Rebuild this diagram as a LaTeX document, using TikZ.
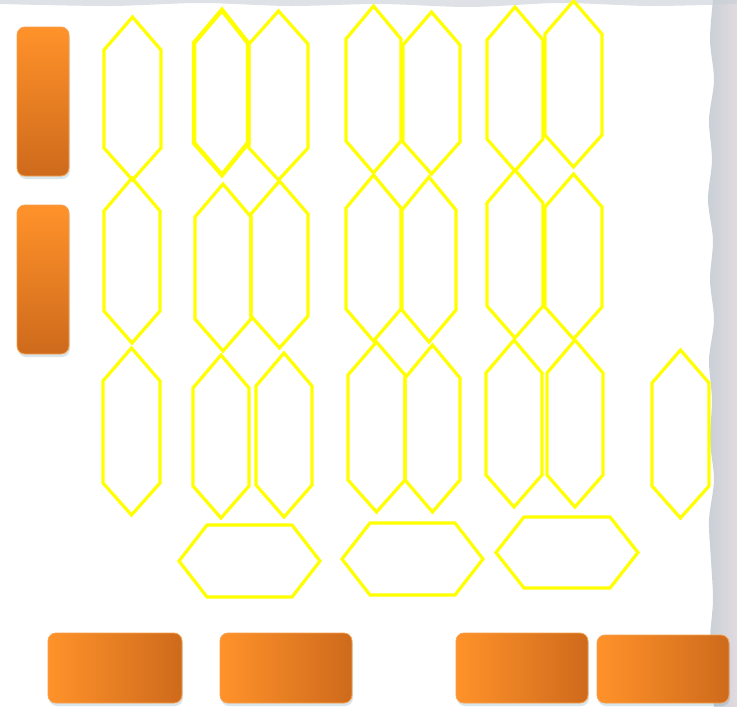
\documentclass[tikz,border=0pt]{standalone}
\usetikzlibrary{shadows}
\definecolor{hexyellow}{RGB}{255,255,0}
\definecolor{orangelight}{RGB}{255,146,42}
\definecolor{orangedark}{RGB}{206,106,28}
\definecolor{orangerim}{RGB}{245,160,80}
\definecolor{edgegray}{RGB}{200,208,214}
\definecolor{edgepink}{RGB}{226,218,224}
\tikzset{
  hexline/.style={draw=hexyellow, line width=3.2pt, line join=miter},
  orangebox/.style={rounded corners=8pt, draw=orangerim, line width=.8pt,
    drop shadow={shadow xshift=1pt, shadow yshift=-3pt, opacity=.2,
      fill=black!40!cyan}},
  orangev/.style={orangebox, top color=orangelight, bottom color=orangedark},
  orangeh/.style={orangebox, left color=orangelight, right color=orangedark}
}
\begin{document}
\begin{tikzpicture}[x=1pt, y=-1pt]
    \useasboundingbox [fill=white] (0,0) rectangle (737,707);
    \shade [left color=edgegray, right color=edgepink]
      (737,0) -- (713,0) -- plot [smooth] coordinates {
        (713,0) (710,40) (714,80) (709,120) (712,160) (708,200)
        (713,240) (710,280) (714,320) (709,360) (712,400) (710,440)
        (714,480) (709,520) (711,560) (713,600) (710,640) (712,680)
        (714,707)} -- (737,707) -- cycle;
    \fill [edgegray, opacity=.6]
      (0,0) -- (737,0) -- plot [smooth] coordinates {
        (737,4) (650,6) (560,3) (470,7) (380,4) (290,6) (200,3)
        (110,6) (0,4)} -- cycle;
    \foreach \xl/\xr/\yt/\yb in {
        104/161/17/180, 249/308/11/180, 346/401/6/173, 403/460/12/174,
        487/543/7/171, 545/602/1/167,
        104/160/178/343, 195/251/184/351, 251/308/181/348, 346/401/175/341,
        402/456/177/342, 487/543/170/338, 545/602/174/339,
        103/160/348/515, 193/249/355/518, 256/312/353/517, 348/405/342/512,
        405/460/345/512, 486/542/340/507, 547/603/340/507, 652/709/350/518} {
      \pgfmathsetmacro\xm{(\xl+\xr)/2}
      \draw [hexline]
        (\xl,\yt+33) -- (\xm,\yt) -- (\xr,\yt+33) --
        (\xr,\yb-32) -- (\xm,\yb) -- (\xl,\yb-32) -- cycle;
    }
    \draw [hexline, line width=4.5pt]
      (194,43) -- (222,10) -- (248,43) -- (248,143) -- (222,175) -- (194,143) -- cycle;
    \foreach \xl/\xr/\yt/\yb in {179/320/525/597, 342/483/523/595, 496/638/517/588} {
      \pgfmathsetmacro\ym{(\yt+\yb)/2}
      \draw [hexline]
        (\xl,\ym) -- (\xl+28,\yt) -- (\xr-28,\yt) --
        (\xr,\ym) -- (\xr-28,\yb) -- (\xl+28,\yb) -- cycle;
    }
    \path [orangev] (17,27) rectangle (69,176);
    \path [orangev] (17,205) rectangle (69,354);
    \path [orangeh] (48,633) rectangle (182,703);
    \path [orangeh] (220,633) rectangle (352,703);
    \path [orangeh] (456,633) rectangle (588,703);
    \path [orangeh] (597,635) rectangle (729,703);
  \end{tikzpicture}
\end{document}
